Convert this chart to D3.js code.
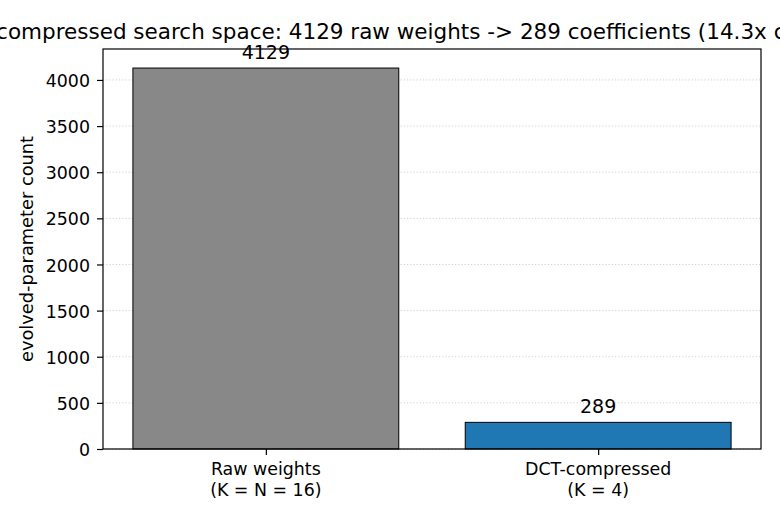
<!DOCTYPE html>
<html>
<head>
<meta charset="utf-8">
<script src="https://cdn.jsdelivr.net/npm/d3@7"></script>
<style>
  body { margin: 0; background: #fff; }
  svg { font-family: "DejaVu Sans", sans-serif; overflow: hidden; }
</style>
</head>
<body>
<div id="chart"></div>
<script>
const width = 780;
const height = 520;

// data
const categories = ["Raw weights\n(K = N = 16)", "DCT-compressed\n(K = 4)"];
const counts = [4129, 289];
const barColors = ["#888888", "#1f77b4"];
const yTicks = [0, 500, 1000, 1500, 2000, 2500, 3000, 3500, 4000];
const title = "DCT-compressed search space: 4129 raw weights -> 289 coefficients (14.3x compression)";

const margin = { top: 49, right: 19, bottom: 71, left: 103 };
const innerW = width - margin.left - margin.right;
const innerH = height - margin.top - margin.bottom;

const svg = d3.select("#chart")
  .append("svg")
  .attr("width", width)
  .attr("height", height);

const g = svg.append("g")
  .attr("transform", `translate(${margin.left},${margin.top})`);

// x like matplotlib: positions 0,1 with bar width 0.8 and 5% margins
const x = d3.scaleLinear().domain([-0.49, 1.49]).range([0, innerW]);
const y = d3.scaleLinear().domain([0, d3.max(counts) * 1.05]).range([innerH, 0]);

// grid
g.selectAll(".grid")
  .data(yTicks)
  .enter()
  .append("line")
  .attr("x1", 0)
  .attr("x2", innerW)
  .attr("y1", d => y(d))
  .attr("y2", d => y(d))
  .attr("stroke", "#cccccc")
  .attr("stroke-width", 0.9)
  .attr("stroke-dasharray", "1.2,2");

// bars
g.selectAll(".bar")
  .data(counts)
  .enter()
  .append("rect")
  .attr("x", (d, i) => x(i - 0.4))
  .attr("width", x(0.4) - x(-0.4))
  .attr("y", d => y(d))
  .attr("height", d => innerH - y(d))
  .attr("fill", (d, i) => barColors[i])
  .attr("stroke", "#000")
  .attr("stroke-width", 1);

// value labels
g.selectAll(".val")
  .data(counts)
  .enter()
  .append("text")
  .attr("x", (d, i) => x(i))
  .attr("y", d => y(d) - 9.5)
  .attr("text-anchor", "middle")
  .style("font-size", "19px")
  .text(d => d);

// axes frame
g.append("rect")
  .attr("width", innerW)
  .attr("height", innerH)
  .attr("fill", "none")
  .attr("stroke", "#000")
  .attr("stroke-width", 1.2);

// y axis
const yAxis = g.append("g")
  .call(d3.axisLeft(y).tickValues(yTicks).tickSize(6).tickPadding(7).tickFormat(d3.format("d")));
yAxis.select(".domain").remove();
yAxis.selectAll("text").style("font-size", "17.4px").attr("fill", "#000")
  .attr("dy", "0.38em").style("font-family", "DejaVu Sans");
yAxis.selectAll("line").attr("stroke", "#000").attr("stroke-width", 1.2);

// x axis
const xAxis = g.append("g")
  .attr("transform", `translate(0,${innerH})`)
  .call(d3.axisBottom(x).tickValues([0, 1]).tickSize(6).tickFormat(""));
xAxis.select(".domain").remove();
xAxis.selectAll("line").attr("stroke", "#000").attr("stroke-width", 1.2);

g.selectAll(".xlab")
  .data(categories)
  .enter()
  .append("text")
  .attr("x", (d, i) => x(i))
  .attr("y", innerH + 26)
  .attr("text-anchor", "middle")
  .style("font-size", "17.4px")
  .selectAll("tspan")
  .data(d => d.split("\n"))
  .enter()
  .append("tspan")
  .attr("x", function() { return d3.select(this.parentNode).attr("x"); })
  .attr("dy", (d, i) => i === 0 ? 0 : 20.8)
  .text(d => d);

// y label
svg.append("text")
  .attr("transform", `translate(33,${margin.top + innerH / 2}) rotate(-90)`)
  .attr("text-anchor", "middle")
  .style("font-size", "17.8px")
  .text("evolved-parameter count");

// title (wider than the window, clipped at both sides as in the reference)
svg.append("text")
  .attr("x", margin.left + innerW / 2)
  .attr("y", 38.5)
  .attr("text-anchor", "middle")
  .style("font-size", "21.5px")
  .text(title);
</script>
</body>
</html>
